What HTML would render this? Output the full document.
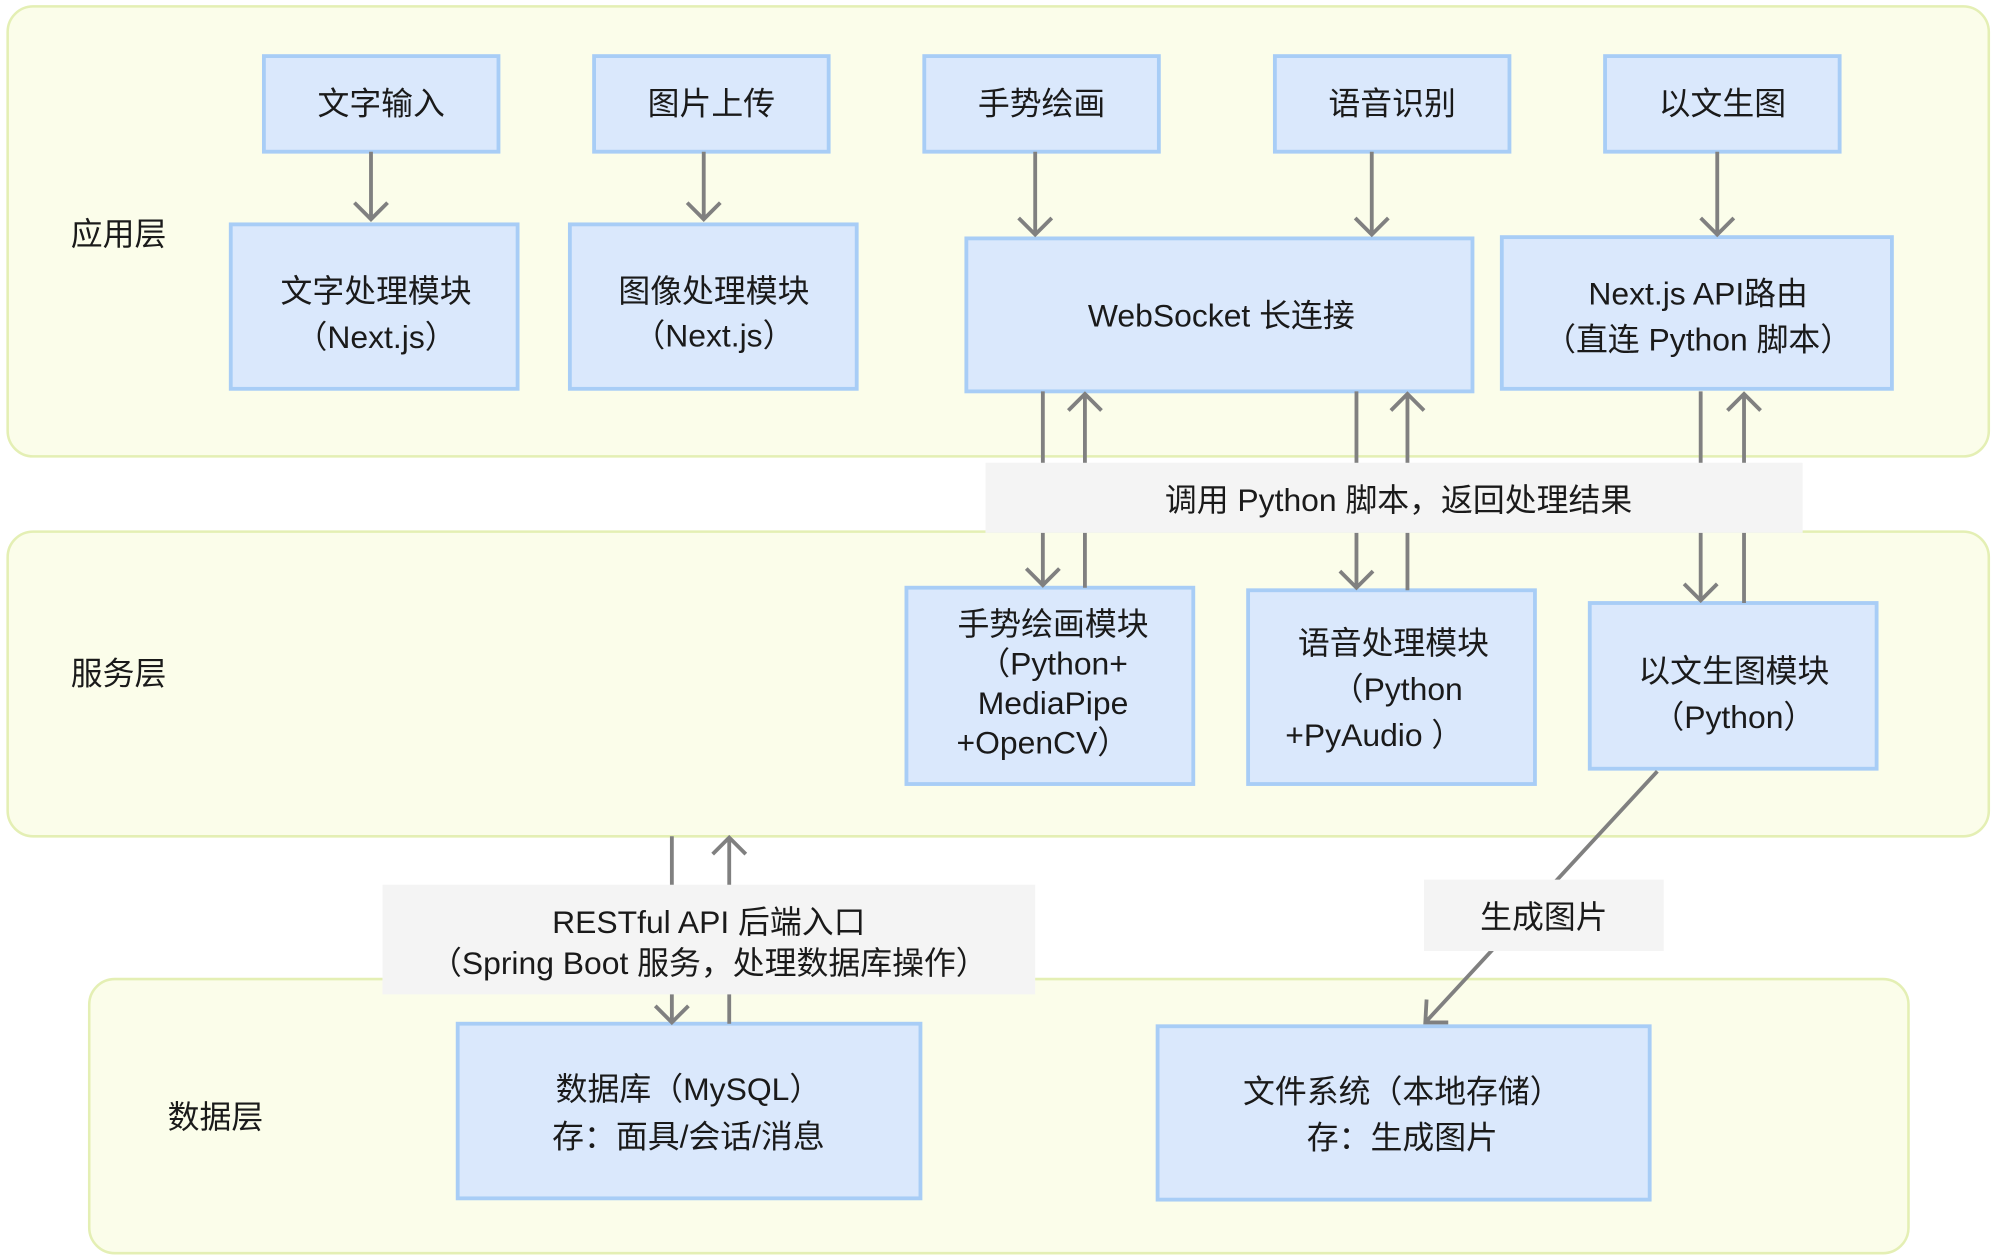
<!DOCTYPE html>
<html><head><meta charset="utf-8"><style>
html,body{margin:0;padding:0;background:#fff;}
svg{display:block;}
text{font-family:"Liberation Sans","Noto Sans CJK SC",sans-serif;font-size:25px;fill:#1a1a1a;text-anchor:middle;}
.layer{fill:#fbfdea;stroke:#e4efb4;stroke-width:2;}
.box{fill:#dae8fc;stroke:#a8cdf6;stroke-width:3;}
.lbl{fill:#f4f4f4;}
.ln{stroke:#808080;stroke-width:3;fill:none;}
</style></head><body>
<svg width="1999" height="1257" viewBox="0 0 1568 986" preserveAspectRatio="none">
<rect class="layer" x="6" y="5" width="1554" height="353" rx="20"/>
<rect class="layer" x="6" y="417" width="1554" height="239" rx="20"/>
<rect class="layer" x="70" y="768" width="1427" height="215" rx="20"/>
<text x="93" y="192" text-anchor="middle">应用层</text>
<text x="93" y="537">服务层</text>
<text x="169" y="885">数据层</text>

<rect class="box" x="207" y="44" width="184" height="75"/><text x="299" y="90">文字输入</text>
<rect class="box" x="466" y="44" width="184" height="75"/><text x="558" y="90">图片上传</text>
<rect class="box" x="725" y="44" width="184" height="75"/><text x="817" y="90">手势绘画</text>
<rect class="box" x="1000" y="44" width="184" height="75"/><text x="1092" y="90">语音识别</text>
<rect class="box" x="1259" y="44" width="184" height="75"/><text x="1351" y="90">以文生图</text>

<rect class="box" x="181" y="176" width="225" height="129"/><text x="295" y="237">文字处理模块</text><text x="295" y="273">（Next.js）</text>
<rect class="box" x="447" y="176" width="225" height="129"/><text x="560" y="237">图像处理模块</text><text x="560" y="272">（Next.js）</text>
<rect class="box" x="758" y="187" width="397" height="120"/><text x="958" y="256">WebSocket 长连接</text>
<rect class="box" x="1178" y="186" width="306" height="119"/><text x="1332" y="239">Next.js API路由</text><text x="1332" y="275">（直连 Python 脚本）</text>

<rect class="box" x="711" y="461" width="225" height="154"/>
<text x="826" y="498">手势绘画模块</text><text x="826" y="529">（Python+</text><text x="826" y="560">MediaPipe</text><text x="818" y="591">+OpenCV）</text>
<rect class="box" x="979" y="463" width="225" height="152"/>
<text x="1093" y="513">语音处理模块</text><text x="1096" y="549">（Python</text><text x="1078" y="585">+PyAudio ）</text>
<rect class="box" x="1247" y="473" width="225" height="130"/>
<text x="1360" y="535">以文生图模块</text><text x="1360" y="571">（Python）</text>

<rect class="box" x="359" y="803" width="363" height="137"/><text x="540" y="863">数据库（MySQL）</text><text x="540" y="900">存：面具/会话/消息</text>
<rect class="box" x="908" y="805" width="386" height="136"/><text x="1100" y="865">文件系统（本地存储）</text><text x="1100" y="901">存：生成图片</text>

<!-- top arrows -->
<path class="ln" d="M291 119V172M278 159L291 172L304 159"/>
<path class="ln" d="M552 119V172M539 159L552 172L565 159"/>
<path class="ln" d="M812 119V184M799 171L812 184L825 171"/>
<path class="ln" d="M1076 119V184M1063 171L1076 184L1089 171"/>
<path class="ln" d="M1347 119V184M1334 171L1347 184L1360 171"/>

<!-- python call arrows -->
<path class="ln" d="M818 307V459M805 446L818 459L831 446"/>
<path class="ln" d="M851 461V309M838 322L851 309L864 322"/>
<path class="ln" d="M1064 307V461M1051 448L1064 461L1077 448"/>
<path class="ln" d="M1104 463V309M1091 322L1104 309L1117 322"/>
<path class="ln" d="M1334 307V471M1321 458L1334 471L1347 458"/>
<path class="ln" d="M1368 473V309M1355 322L1368 309L1381 322"/>
<rect class="lbl" x="773" y="363" width="641" height="55"/>
<text x="1097" y="401">调用 Python 脚本，返回处理结果</text>

<!-- REST -->
<path class="ln" d="M527 656V802M514 789L527 802L540 789"/>
<path class="ln" d="M572 803V657M559 670L572 657L585 670"/>
<rect class="lbl" x="300" y="694" width="512" height="86"/>
<text x="556" y="732">RESTful API 后端入口</text>
<text x="556" y="764">（Spring Boot 服务，处理数据库操作）</text>

<!-- diagonal -->
<path class="ln" d="M1300 605L1118 802M1119 784L1118 802L1136 802"/>
<rect class="lbl" x="1117" y="690" width="188" height="56"/>
<text x="1211" y="728">生成图片</text>
</svg>
</body></html>
